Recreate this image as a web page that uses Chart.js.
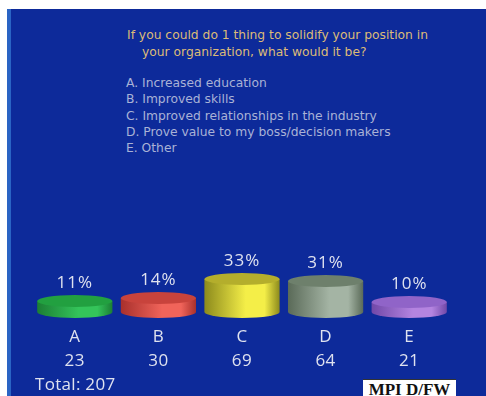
<!DOCTYPE html>
<html>
<head>
<meta charset="utf-8">
<script src="https://cdn.jsdelivr.net/npm/chart.js@4/dist/chart.umd.min.js"></script>
<style>
  html, body { margin: 0; padding: 0; background: #ffffff; }
  #wrap { position: relative; width: 486px; height: 396px; overflow: hidden; }
  #panel { position: absolute; left: 7px; top: 9px; right: 0; bottom: 0;
           background: #0d2a9a; border-left: 4px solid #2a64c4; }
  canvas { position: absolute; left: 0; top: 0; }
  .txt { position: absolute; font-family: "DejaVu Sans", sans-serif; font-size: 12.3px;
         line-height: 14px; white-space: nowrap; }
  .q { color: #dcbb78; }
  .opt { color: #a9b2d6; }
  #total { position: absolute; left: 35px; top: 373px; font-family: "Open Sans", sans-serif;
           font-size: 17px; line-height: 22px; color: #dfe2ef; letter-spacing: 0.3px; }
  #tag { position: absolute; left: 363px; top: 379px; width: 93px; height: 20px; background: #fff;
         border-top: 1px solid #333; font-family: "Liberation Serif", serif; font-weight: bold;
         font-size: 17px; color: #111; text-align: center; line-height: 19px; }
</style>
</head>
<body>
<div id="wrap">
  <div id="panel"></div>
  <div class="txt q" style="left:127px; top:28px;">If you could do 1 thing to solidify your position in</div>
  <div class="txt q" style="left:142px; top:45px;">your organization, what would it be?</div>
  <div class="txt opt" style="left:126px; top:76px;">A. Increased education</div>
  <div class="txt opt" style="left:126px; top:92px;">B. Improved skills</div>
  <div class="txt opt" style="left:126px; top:109px;">C. Improved relationships in the industry</div>
  <div class="txt opt" style="left:126px; top:125px;">D. Prove value to my boss/decision makers</div>
  <div class="txt opt" style="left:126px; top:141px;">E. Other</div>
  <canvas id="c" width="486" height="396"></canvas>
  <div id="total">Total: 207</div>
  <div id="tag">MPI D/FW</div>
</div>
<script>
// Poll answers
const categories = ['A', 'B', 'C', 'D', 'E'];
const percents = [11, 14, 33, 31, 10];
const counts = [23, 30, 69, 64, 21];

// Cylinder colours: side edge, side highlight, top face
const sideDark = ['#1c7e34', '#a8302c', '#8c8a1c', '#5a6a58', '#7048a8'];
const sideLight = ['#34c45a', '#f0645a', '#f4ee48', '#a4b4a4', '#b484e0'];
const topFace = ['#22a040', '#c8433c', '#b4ae2c', '#6e806c', '#9064c8'];

const cylinders = {
  id: 'cylinders',
  afterDatasetsDraw(chart) {
    const ctx = chart.ctx;
    const meta = chart.getDatasetMeta(0);
    const ry = 6;
    meta.data.forEach((bar, i) => {
      const { x, y, base, width } = bar.getProps(['x', 'y', 'base', 'width'], true);
      const rx = width / 2;
      const l = x - rx, r = x + rx;
      // side
      const g = ctx.createLinearGradient(l, 0, r, 0);
      g.addColorStop(0, sideDark[i]);
      g.addColorStop(0.55, sideLight[i]);
      g.addColorStop(0.8, sideLight[i]);
      g.addColorStop(1, sideDark[i]);
      ctx.save();
      ctx.beginPath();
      ctx.moveTo(l, y);
      ctx.lineTo(l, base);
      ctx.ellipse(x, base, rx, ry, 0, Math.PI, 0, true);
      ctx.lineTo(r, y);
      ctx.closePath();
      ctx.fillStyle = g;
      ctx.fill();
      // top face
      ctx.beginPath();
      ctx.ellipse(x, y, rx, ry, 0, 0, Math.PI * 2);
      ctx.fillStyle = topFace[i];
      ctx.fill();
      // value label
      ctx.fillStyle = '#dfe2ef';
      ctx.font = '17px "Open Sans", sans-serif';
      ctx.textAlign = 'center';
      ctx.textBaseline = 'middle';
      ctx.letterSpacing = '1px';
      ctx.fillText(percents[i] + '%', x, y - 18);
      // category letter and count
      ctx.letterSpacing = '0.5px';
      ctx.fillText(categories[i], x, base + 25);
      ctx.fillText(String(counts[i]), x, base + 49);
      ctx.restore();
    });
  }
};

new Chart(document.getElementById('c'), {
  type: 'bar',
  data: {
    labels: categories,
    datasets: [{
      data: percents,
      backgroundColor: 'rgba(0,0,0,0)',
      borderWidth: 0,
      barPercentage: 0.9,
      categoryPercentage: 1
    }]
  },
  options: {
    responsive: false,
    devicePixelRatio: 1,
    animation: false,
    layout: { padding: { left: 33, right: 35, top: 212, bottom: 84 } },
    scales: {
      x: { display: false },
      y: { display: false, min: 0, max: 100 }
    },
    plugins: { legend: { display: false }, tooltip: { enabled: false } }
  },
  plugins: [cylinders]
});
</script>
</body>
</html>
